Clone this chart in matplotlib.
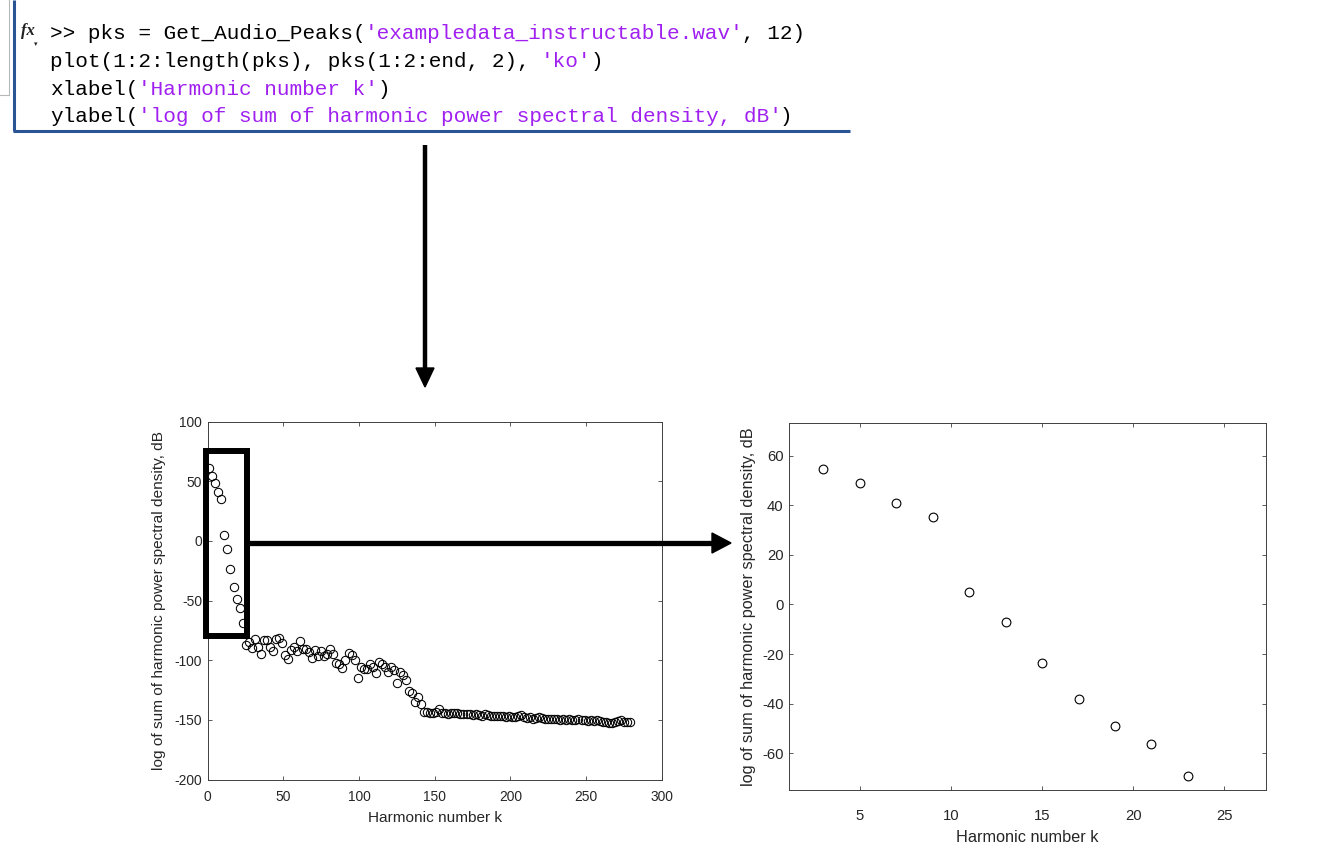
import numpy as np
import matplotlib.pyplot as plt
from matplotlib.patches import Polygon, Rectangle

plt.rcParams['font.family'] = ['Liberation Sans', 'DejaVu Sans']
plt.rcParams['axes.unicode_minus'] = False

# pks(1:2:end, 2) -- peak power per odd harmonic, dB
psd_db = [61, 54.6, 48.8, 40.8, 35.4, 5.0, -7.1, -23.6, -38.3, -49.0, -56.1, -69.2,
          -87, -85, -89.5, -82.5, -88.6, -94.5, -83.3, -83, -88.6, -92.6,
          -82.5, -81.4, -85.3, -95.4, -98.7, -91.4, -88.6, -92.3, -83.9, -90.9,
          -90.3, -92.8, -98, -91.4, -96.5, -92.6, -96.5, -95, -90.3, -94.8,
          -102, -103.5, -106.6, -99.8, -93.7, -96, -99.8, -115, -105.7, -107.7,
          -107.7, -103.2, -105.4, -110.5, -101.2, -103.2, -106, -109.6, -105.7, -107.9,
          -119.4, -109.9, -112.4, -116.6, -125.6, -127.5, -134.8, -130.6, -136.5, -143,
          -143.5, -144, -144, -143.5, -140.5, -144, -144.5, -145, -144, -144.5,
          -144, -145, -145.5, -145, -145.5, -146, -145, -146, -146.5, -145,
          -146, -147, -146.5, -147, -147, -146.5, -147.5, -147, -147.5, -148,
          -147, -146, -148, -148.5, -148, -149, -148.5, -147.5, -148.5, -149,
          -149, -149.5, -149, -149.5, -150, -149, -150, -149.5, -150, -150.5,
          -149, -150, -150.5, -151, -150.5, -151, -150.5, -151, -152, -151.5,
          -152.5, -153, -151.5, -151, -150, -152, -152, -152]
psd_db = np.array(psd_db)
harm_k = np.arange(1, 2 * len(psd_db), 2)   # 1:2:length(pks)

xlab = 'Harmonic number k'
ylab = 'log of sum of harmonic power spectral density, dB'

code_lines = [
    [(">> pks = Get_Audio_Peaks(", 'k'), ("'exampledata_instructable.wav'", 'p'), (", 12)", 'k')],
    [("plot(1:2:length(pks), pks(1:2:end, 2), ", 'k'), ("'ko'", 'p'), (")", 'k')],
    [("xlabel(", 'k'), ("'Harmonic number k'", 'p'), (")", 'k')],
    [("ylabel(", 'k'), ("'log of sum of harmonic power spectral density, dB'", 'p'), (")", 'k')],
]

W, H = 1325, 851
fig = plt.figure(figsize=(W / 100, H / 100), dpi=100)


def px_axes(l, t, r, b):
    return fig.add_axes([l / W, 1 - b / H, (r - l) / W, (b - t) / H])


def matlab_style(ax, tick_fs, lab_fs, ylab_x, xlab_y, xpad, l, t, r, b):
    for s in ax.spines.values():
        s.set_color('#404040')
        s.set_linewidth(0.7)
    ax.tick_params(direction='in', top=True, right=True, length=3, width=0.6,
                   color='#404040', labelcolor='#262626', labelsize=tick_fs, pad=4)
    ax.tick_params(axis='x', pad=xpad)
    ax.set_xlabel(xlab, fontsize=lab_fs, color='#262626')
    ax.set_ylabel(ylab, fontsize=lab_fs, color='#262626')
    ax.xaxis.label.set(va='center', ha='center')
    ax.yaxis.label.set(va='center', ha='center')
    ax.xaxis.set_label_coords(0.5, -(xlab_y - b) / (b - t))
    ax.yaxis.set_label_coords(-(l - ylab_x) / (r - l), 0.5)


# left: full spectrum
L = (207.8, 421.7, 661.7, 779.5)
ax1 = px_axes(*L)
ax1.plot(harm_k, psd_db, 'o', mfc='none', mec='k', ms=6, mew=0.75)
ax1.set_xlim(0, 300)
ax1.set_ylim(-200, 100)
ax1.set_xticks(np.arange(0, 301, 50))
ax1.set_yticks(np.arange(-200, 101, 50))
matlab_style(ax1, 9.9, 11.1, 159, 818, 7.9, *L)

# right: zoom on the first harmonics
R = (789.2, 423.3, 1265.5, 790)
ax2 = px_axes(*R)
xl, yl = (1.14, 27.25), (-74.8, 73)
keep = (harm_k > xl[0]) & (harm_k < xl[1]) & (psd_db > yl[0]) & (psd_db < yl[1])
ax2.plot(harm_k[keep], psd_db[keep], 'o', mfc='none', mec='k', ms=6.3, mew=0.8)
ax2.set_xlim(*xl)
ax2.set_ylim(*yl)
ax2.set_xticks(np.arange(5, 26, 5))
ax2.set_yticks(np.arange(-60, 61, 20))
matlab_style(ax2, 10.7, 11.7, 749, 838, 14, *R)

# overlay in pixel coordinates: code snippet, frame, arrows, zoom box
ov = fig.add_axes([0, 0, 1, 1])
ov.set_xlim(0, W)
ov.set_ylim(H, 0)
ov.axis('off')
ov.patch.set_alpha(0)

ov.plot([9, 9], [0, 95], color='#b8b8b8', lw=0.8)
ov.plot([0, 9], [95, 95], color='#b8b8b8', lw=0.8)
ov.plot([14, 14], [0, 131], color='#2a5494', lw=2.2, solid_capstyle='butt')
ov.plot([13, 850], [131, 131], color='#2a5494', lw=2.2, solid_capstyle='butt')

ov.text(21, 31, 'fx', family='Liberation Serif', style='italic', weight='bold', fontsize=12,
        ha='left', va='center', color='#222222')
ov.text(36, 44, '\u25be', family='DejaVu Sans', fontsize=5, ha='center', va='center', color='#222222')

fs = 15.1
pitch = 0.6 * fs * 100 / 72
colors = {'k': '#000000', 'p': '#a020f0'}
x0 = 50
for i, segs in enumerate(code_lines):
    y = 33.5 + i * 27.8
    col = 0
    for txt, c in segs:
        ov.text(x0 + col * pitch, y, txt, family='Liberation Mono', fontsize=fs,
                color=colors[c], ha='left', va='center')
        col += len(txt)

# arrows
ov.plot([425, 425], [145, 370], color='k', lw=3.2, solid_capstyle='butt')
ov.add_patch(Polygon([(416, 368), (434, 368), (425, 387)], closed=True, color='k'))
ov.plot([249, 714], [543, 543], color='k', lw=3.8, solid_capstyle='butt')
ov.add_patch(Polygon([(712, 533), (712, 553), (731, 543)], closed=True, color='k'))

# zoom box on the left plot
ov.add_patch(Rectangle((205.5, 451), 41.5, 184.5, fill=False, ec='k', lw=4.3))

fig.savefig('out.png', dpi=100)
